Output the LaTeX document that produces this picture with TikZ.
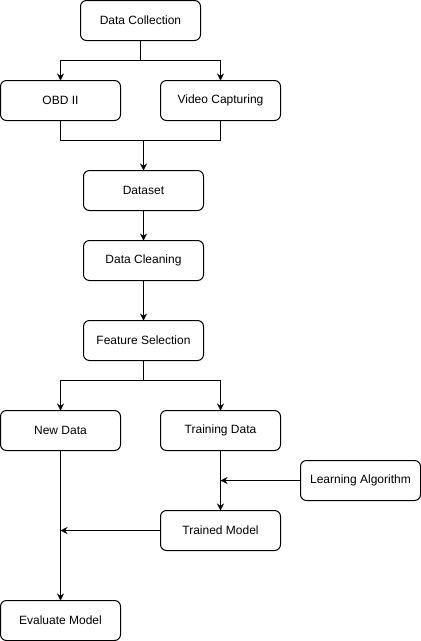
\documentclass[tikz,border=0pt]{standalone}
\usepackage{fontspec}
\setmainfont{Liberation Sans}
\usepackage{tikz}
\usetikzlibrary{arrows.meta,positioning}

\begin{document}
\begin{tikzpicture}[
    node distance=40pt,
    block/.style={rectangle, draw, line width=1pt, minimum width=120pt, minimum height=40pt, inner sep=0pt, outer sep=0pt, text centered, rounded corners=6pt, font=\fontsize{12}{14}\selectfont},
    arrow/.style={line width=1pt,-{Stealth[length=7pt,width=7pt]}},
    link/.style={line width=1pt}
]
    \useasboundingbox (0pt,0pt) rectangle (421pt,-641pt);
    \node [block] (collect) at (140.5pt,-20.5pt) {Data Collection};
    \node [block, below=40pt of collect, xshift=-80pt] (obd) {OBD II};
    \node [block, right=of obd] (video) {Video Capturing};
    \node [block, below=130pt of collect, xshift=3pt] (dataset) {Dataset};
    \node [block, below=30pt of dataset] (cleaning) {Data Cleaning};
    \node [block, below=of cleaning] (selection) {Feature Selection};
    \node [block, below=50pt of selection, xshift=-83pt] (newdata) {New Data};
    \node [block, right=of newdata] (training) {Training Data};
    \node [block, below right=10pt and 20pt of training] (learning) {Learning Algorithm};
    \node [block, below=60pt of training] (trained) {Trained Model};
    \node [block, below=150pt of newdata] (evaluate) {Evaluate Model};

    % split and merge of the sources
    \draw [arrow] (collect.south) -- ++(0,-20pt) -| (obd.north);
    \draw [arrow] (collect.south) -- ++(0,-20pt) -| (video.north);
    \draw [link] (obd.south) -- ++(0,-20pt) coordinate (merge) -| (video.south);
    \draw [arrow] (merge -| dataset.north) -- (dataset.north);
    \draw [arrow] (dataset) -- (cleaning);
    \draw [arrow] (cleaning) -- (selection);

    % model part
    \draw [arrow] (selection.south) -- ++(0,-20pt) -| (newdata.north);
    \draw [arrow] (selection.south) -- ++(0,-20pt) -| (training.north);
    \draw [arrow] (training) -- (trained);
    \draw [arrow] (learning.west) -- (learning.west -| training.south);
    \draw [arrow] (trained.west) -- (trained.west -| newdata.south);
    \draw [arrow] (newdata) -- (evaluate);
\end{tikzpicture}
\end{document}
